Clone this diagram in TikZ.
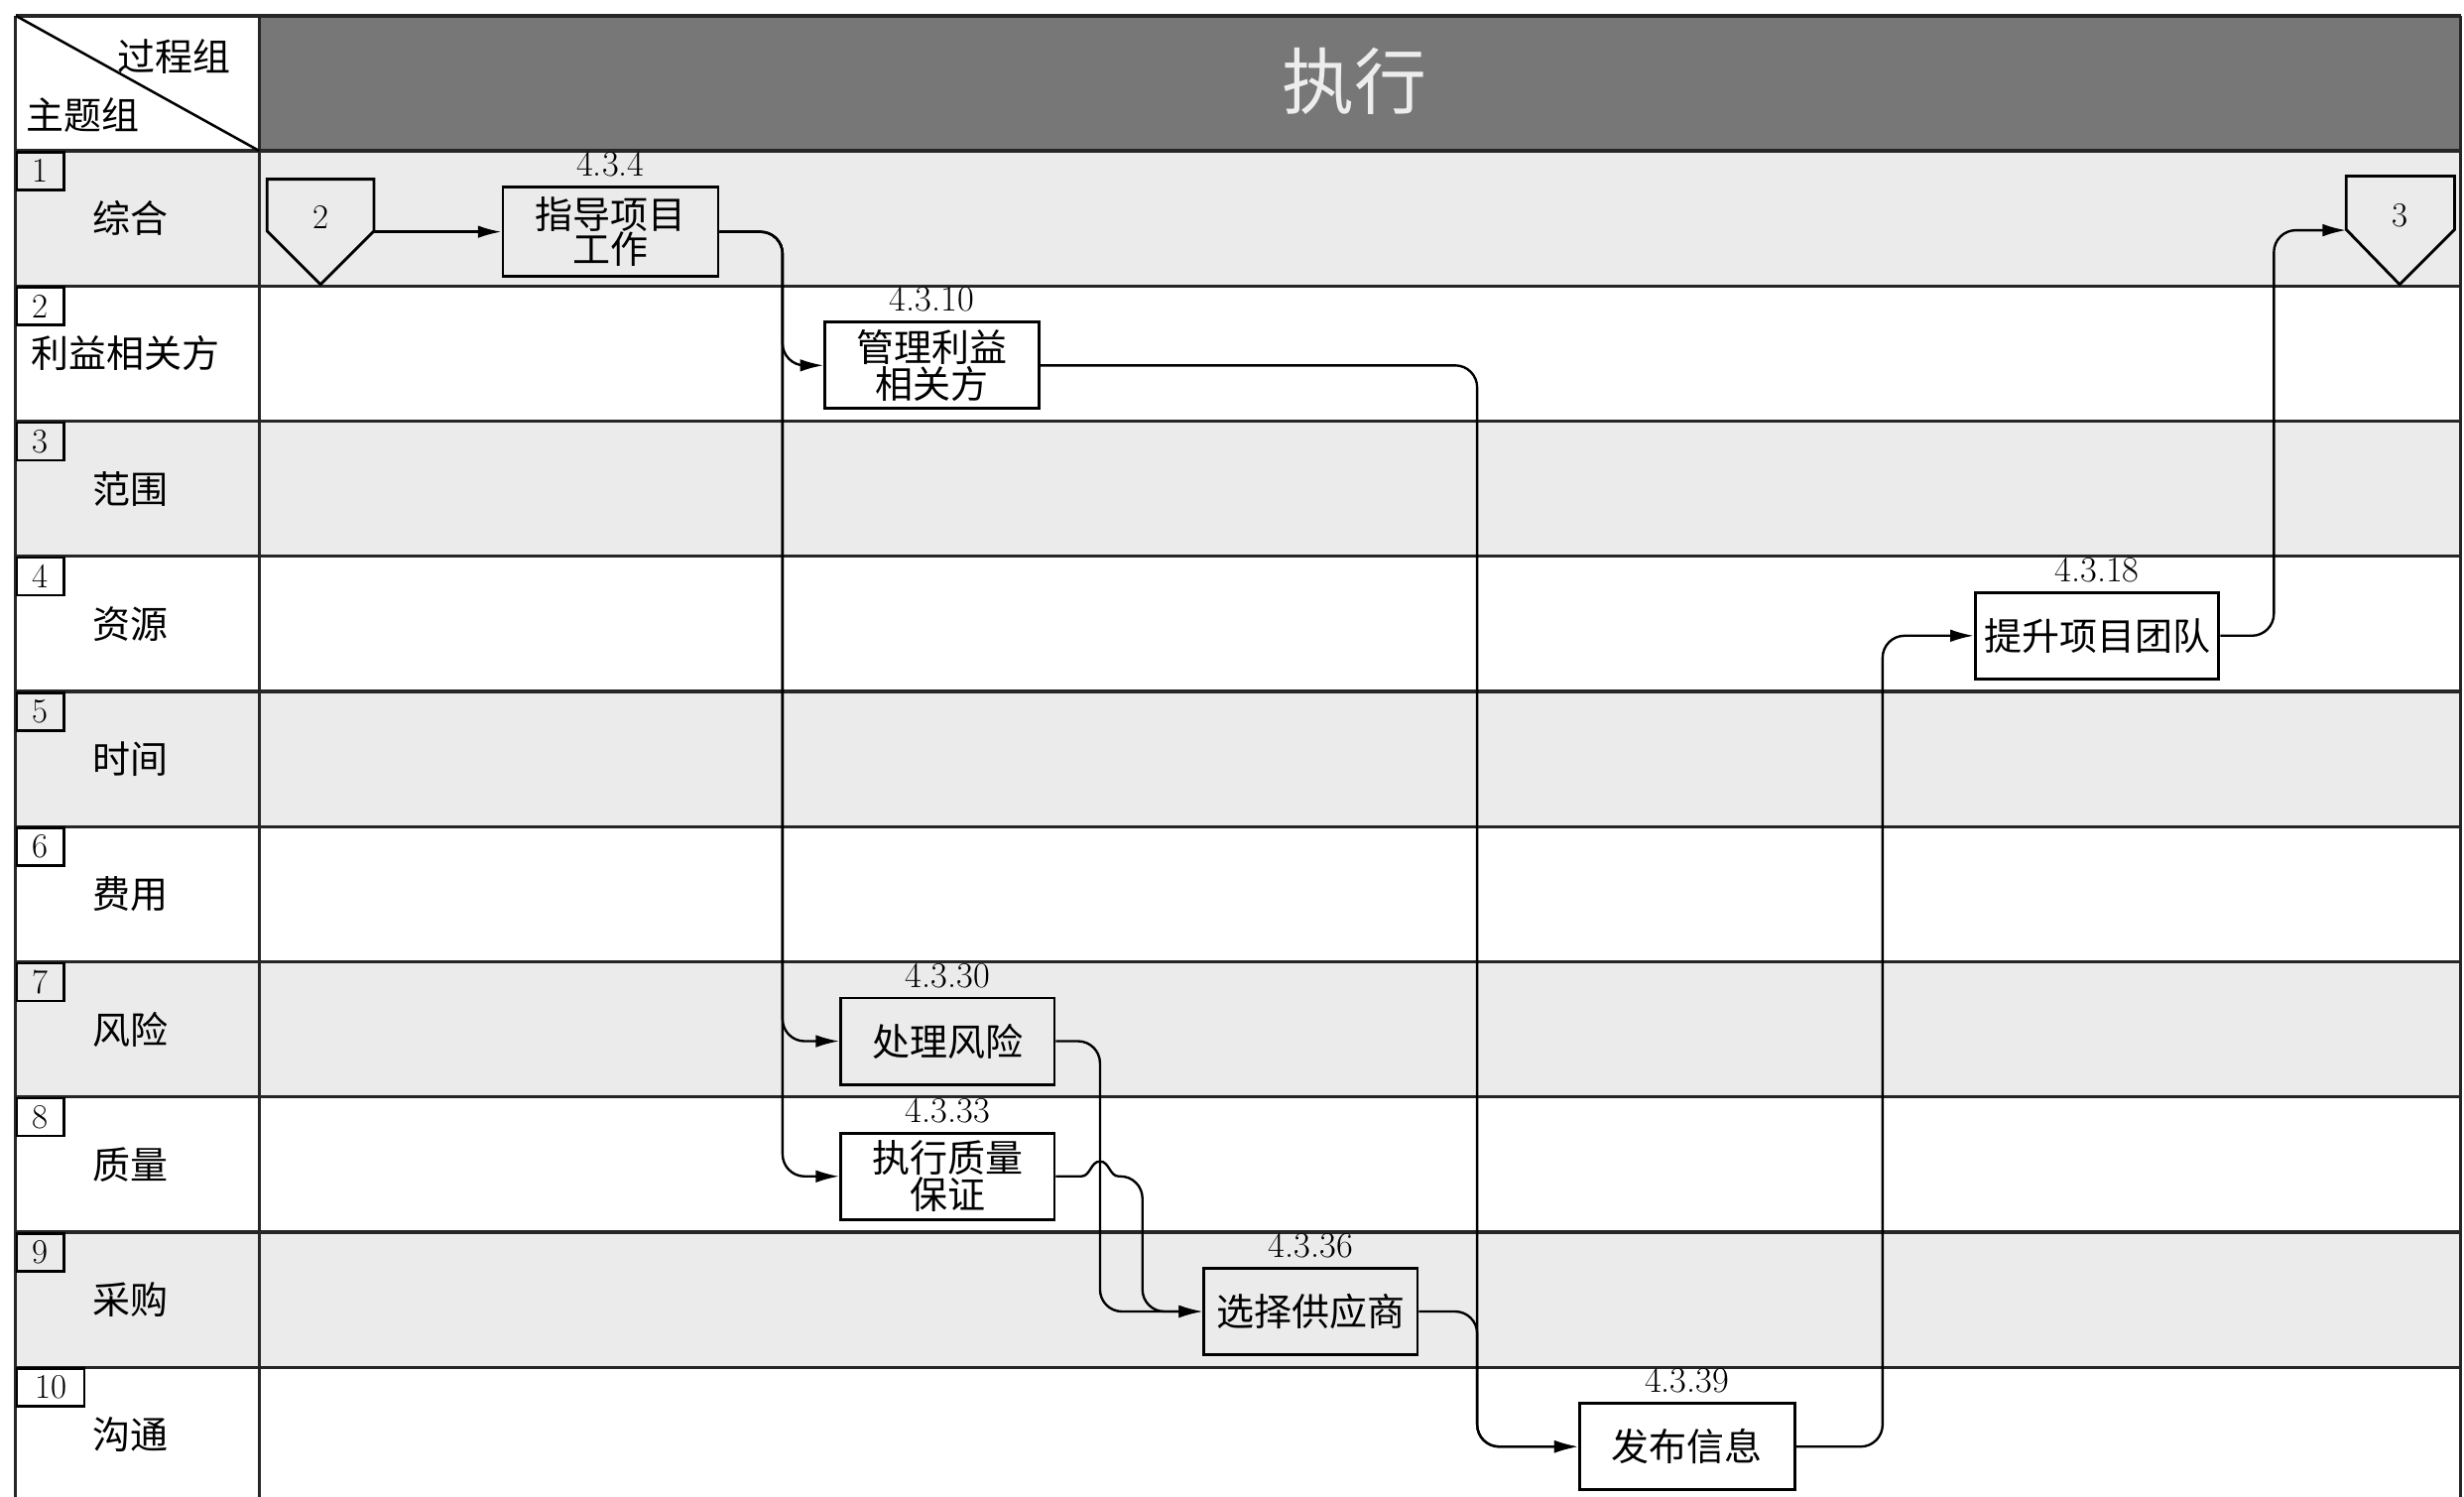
\documentclass[tikz,border=0pt]{standalone}
\usepackage{fontspec}
\usetikzlibrary{arrows.meta}
\newfontfamily\cjk{Noto Sans CJK SC}
\definecolor{rowgray}{HTML}{EBEBEB}
\definecolor{headgray}{HTML}{777777}
\definecolor{headtext}{HTML}{EDEDED}
\tikzset{
  gridline/.style={line width=2pt, draw=black!85},
  rowlab/.style={font=\cjk\fontsize{24}{24}\selectfont, inner sep=0pt},
  numbox/.style={draw, line width=1.6pt, anchor=north west, minimum height=24pt, inner sep=0pt, font=\fontsize{22}{22}\selectfont},
  proc/.style={draw, line width=1.8pt, minimum width=136pt, minimum height=55pt, inner sep=0pt, align=center, font=\cjk\fontsize{24}{22}\selectfont},
  pid/.style={anchor=base, inner sep=0pt, font=\fontsize{23}{23}\selectfont},
  conn/.style={line width=1.5pt, rounded corners=14pt, -{Latex[length=15pt,width=8pt]}},
  pent/.style={draw, line width=1.8pt},
  pnum/.style={inner sep=0pt, font=\fontsize{22}{22}\selectfont}
}
\begin{document}
\begin{tikzpicture}[x=1pt,y=-1pt]
\useasboundingbox (0,0) rectangle (1568,952);
\fill[white] (0,0) rectangle (1568,952);
% row fills
\foreach \i in {0,2,4,6,8} \fill[rowgray] (10,{96+86*\i}) rectangle (1566,{182+86*\i});
\fill[headgray] (165,10) rectangle (1566,96);
% grid
\foreach \i in {0,...,9} \draw[gridline] (10,{96+86*\i}) -- (1566,{96+86*\i});
\draw[gridline, line width=2.4pt] (10,10) -- (1566,10);
\draw[gridline] (10,10) -- (10,960) (165,10) -- (165,960) (1566,10) -- (1566,960);
\draw[line width=1.6pt] (10,10) -- (165,96);
% header
\node[rowlab] (hdA) at (111,36) {过程组};
\node[rowlab] (hdB) at (53,73) {主题组};
\node[font=\cjk\fontsize{46}{46}\selectfont, text=headtext, inner sep=0pt] (title) at (862,52) {执行};
% row labels
\node[rowlab] (r1) at (83,139) {综合};
\node[rowlab] (r2) at (80,225) {利益相关方};
\node[rowlab] (r3) at (83,311) {范围};
\node[rowlab] (r4) at (83,397) {资源};
\node[rowlab] (r5) at (83,483) {时间};
\node[rowlab] (r6) at (83,569) {费用};
\node[rowlab] (r7) at (83,655) {风险};
\node[rowlab] (r8) at (83,741) {质量};
\node[rowlab] (r9) at (83,827) {采购};
\node[rowlab] (r10) at (83,913) {沟通};
% number boxes
\node[numbox, minimum width=30pt] (n1) at (10,96) {1};
\node[numbox, minimum width=30pt] (n2) at (10,182) {2};
\node[numbox, minimum width=30pt] (n3) at (10,268) {3};
\node[numbox, minimum width=30pt] (n4) at (10,354) {4};
\node[numbox, minimum width=30pt] (n5) at (10,440) {5};
\node[numbox, minimum width=30pt] (n6) at (10,526) {6};
\node[numbox, minimum width=30pt] (n7) at (10,612) {7};
\node[numbox, minimum width=30pt] (n8) at (10,698) {8};
\node[numbox, minimum width=30pt] (n9) at (10,784) {9};
\node[numbox, minimum width=43pt] (n10) at (10,870) {10};
% connector symbols
\draw[pent] (170,114) -- (238,114) -- (238,147) -- (204,181) -- (170,147) -- cycle;
\node[pnum] (c2) at (204,138) {2};
\coordinate (c2out) at (238,147.5);
\draw[pent] (1493,112) -- (1562,112) -- (1562,146) -- (1527,181) -- (1493,146) -- cycle;
\node[pnum] (c3) at (1527,137) {3};
\coordinate (c3in) at (1493,146.5);
% processes
\node[proc, minimum width=137pt, minimum height=57pt] (zd) at (388.5,147.5) {指导项目\\工作};
\node[pid] at ([yshift=6pt]zd.north) {4.3.4};
\node[proc] (gl) at (593,232.5) {管理利益\\相关方};
\node[pid] at ([yshift=6pt]gl.north) {4.3.10};
\node[proc] (cl) at (603,662.5) {处理风险};
\node[pid] at ([yshift=6pt]cl.north) {4.3.30};
\node[proc] (zx) at (603,748.5) {执行质量\\保证};
\node[pid] at ([yshift=6pt]zx.north) {4.3.33};
\node[proc] (xz) at (834,834.5) {选择供应商};
\node[pid] at ([yshift=6pt]xz.north) {4.3.36};
\node[proc, minimum width=137pt] (fb) at (1073.5,920.5) {发布信息};
\node[pid] at ([yshift=6pt]fb.north) {4.3.39};
\node[proc, minimum width=155pt] (ts) at (1334.5,404.5) {提升项目团队};
\node[pid] at ([yshift=6pt]ts.north) {4.3.18};
% bus coordinates
\coordinate (b1) at (498,0);
\coordinate (b2) at (700,0);
\coordinate (b3) at (727,0);
\coordinate (b4) at (940,0);
\coordinate (b5) at (1198,0);
\coordinate (b6) at (1447,0);
% connectors
\draw[conn] (c2out) -- (zd.west);
\draw[conn] (zd.east) -| (b1 |- gl.west) -- (gl.west);
\draw[conn] (zd.east) -| (b1 |- cl.west) -- (cl.west);
\draw[conn] (zd.east) -| (b1 |- zx.west) -- (zx.west);
\draw[conn] (cl.east) -| (b2 |- xz.west) -- (xz.west);
\draw[line width=1.5pt] (zx.east) -- (688,748.5) .. controls (694,748.5) and (694,739) .. (700,739) .. controls (706,739) and (706,748.5) .. (712,748.5);
\draw[conn] (712,748.5) -- (b3 |- zx.east) -- (b3 |- xz.west) -- (xz.west);
\draw[conn] (gl.east) -| (b4 |- fb.west) -- (fb.west);
\draw[conn] (xz.east) -| (b4 |- fb.west) -- (fb.west);
\draw[conn] (fb.east) -| (b5 |- ts.west) -- (ts.west);
\draw[conn] (ts.east) -| (b6 |- c3in) -- (c3in);
\end{tikzpicture}
\end{document}
